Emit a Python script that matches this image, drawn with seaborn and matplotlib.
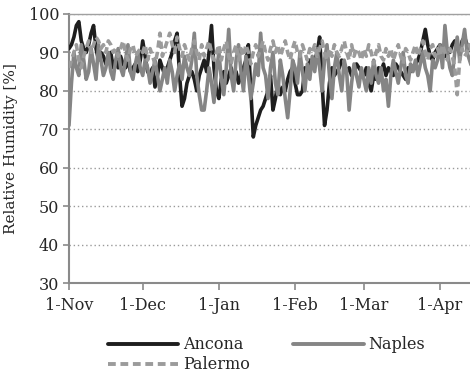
import numpy as np
import pandas as pd
import matplotlib
matplotlib.use("Agg")
import matplotlib.pyplot as plt
from matplotlib.lines import Line2D
import seaborn as sns

# Daily mean relative humidity [%], 1 Nov 2012 - 15 Apr 2013
start_date = "2012-11-01"
ancona = [
    91, 92, 94, 97, 98, 93, 91, 90, 92, 95,
    97, 91, 88, 90, 89, 87, 88, 90, 86, 88,
    86, 89, 87, 86, 88, 85, 86, 87, 85, 88,
    93, 89, 85, 84, 86, 81, 84, 88, 86, 84,
    86, 88, 90, 93, 95, 84, 76, 78, 82, 84,
    85, 83, 80, 84, 86, 88, 85, 90, 97, 86,
    80, 78, 83, 85, 82, 84, 86, 83, 85, 82,
    84, 86, 88, 92, 80, 68, 71, 73, 75, 76,
    78, 80, 84, 75, 78, 82, 79, 81, 80, 83,
    85, 86, 82, 79, 79, 80, 86, 84, 88, 86,
    88, 90, 94, 82, 71, 75, 82, 86, 84, 85,
    86, 88, 87, 85, 86, 84, 85, 87, 86, 85,
    84, 86, 82, 80, 84, 83, 86, 85, 87, 84,
    86, 85, 84, 87, 86, 85, 84, 83, 86, 85,
    86, 87, 88, 90, 93, 96, 92, 89, 88, 90,
    91, 92, 90, 89, 91, 90, 92, 93, 92, 90,
    93, 94, 92, 91, 90, 91,
]
naples = [
    71, 82, 90, 86, 84, 92, 88, 83, 85, 91,
    87, 83, 92, 88, 84, 86, 90, 85, 83, 88,
    91, 86, 84, 88, 92, 85, 83, 87, 90, 86,
    84, 88, 86, 82, 85, 88, 84, 80, 83, 86,
    82, 88, 85, 80, 84, 87, 83, 89, 86, 84,
    88, 95, 84, 79, 75, 75, 80, 86, 82, 77,
    85, 90, 83, 79, 86, 96, 84, 80, 88, 92,
    85, 80, 89, 84, 78, 82, 87, 84, 95, 86,
    84, 78, 86, 90, 82, 79, 88, 84, 78, 73,
    80, 88, 86, 82, 90, 85, 80, 87, 83, 89,
    85, 91, 86, 80, 88, 92, 84, 78, 86, 90,
    84, 80, 88, 85, 75, 82, 87, 84, 81, 86,
    83, 80, 86, 82, 88, 84, 82, 86, 80, 83,
    76, 84, 88, 85, 82, 86, 90, 84, 82, 87,
    85, 88, 84, 87, 90, 86, 84, 80, 88, 86,
    88, 92, 86, 97, 90, 86, 84, 90, 94, 88,
    92, 96, 90, 88, 86, 90,
]
palermo = [
    86, 88, 90, 92, 88, 86, 89, 91, 93, 90,
    92, 94, 93, 91, 92, 90, 93, 92, 90, 91,
    89, 91, 93, 90, 88, 91, 92, 89, 90, 91,
    90, 92, 88, 91, 89, 87, 90, 95, 89, 91,
    93, 95, 92, 90, 94, 91, 89, 92, 90, 88,
    91, 93, 90, 88, 92, 89, 91, 93, 90, 88,
    90, 92, 88, 91, 93, 89, 87, 90, 92, 88,
    91, 89, 92, 90, 87, 90, 92, 89, 91, 93,
    90, 88, 91, 93, 90, 92, 89, 91, 93, 90,
    88, 91, 93, 90, 89, 92, 90, 88, 91, 90,
    92, 89, 91, 93, 90, 88, 91, 89, 92, 90,
    89, 91, 93, 90, 88, 92, 89, 91, 90, 88,
    91, 89, 92, 90, 87, 90, 92, 89, 88, 91,
    89, 91, 88, 90, 92, 89, 87, 91, 90, 88,
    90, 92, 89, 91, 93, 90, 88, 91, 92, 89,
    91, 89, 92, 90, 88, 91, 89, 86, 79, 88,
    91, 89, 90, 92, 88, 90,
]
cities = ["Ancona", "Naples", "Palermo"]
tick_dates = ["2012-11-01", "2012-12-01", "2013-01-01", "2013-02-01", "2013-03-01", "2013-04-01"]
tick_labels = ["1-Nov", "1-Dec", "1-Jan", "1-Feb", "1-Mar", "1-Apr"]
y_ticks = [30, 40, 50, 60, 70, 80, 90, 100]

dates = pd.date_range(start_date, periods=len(ancona), freq="D")
df = pd.concat(
    [pd.DataFrame({"date": dates, "rh": vals, "city": name})
     for name, vals in zip(cities, [ancona, naples, palermo])],
    ignore_index=True,
)

sns.set_style("white")
plt.rcParams["font.family"] = ["DejaVu Serif"]
fs = 11.5

fig = plt.figure(figsize=(4.70, 3.83), dpi=100)
ax = fig.add_axes([69 / 470, 1 - 283 / 383, 1 - 69 / 470, (283 - 14) / 383])

palette = {"Ancona": "#1e1e1e", "Naples": "#858585", "Palermo": "#9b9b9b"}
dashes = {"Ancona": "", "Naples": "", "Palermo": (2.0, 1.2)}
sns.lineplot(data=df, x="date", y="rh", hue="city", style="city",
             palette=palette, dashes=dashes, linewidth=2.6, ax=ax,
             legend=False, zorder=3)

ax.set_ylim(30, 100)
ax.set_yticks(y_ticks)
x0 = pd.Timestamp(start_date)
ax.set_xlim(x0, x0 + pd.Timedelta(days=163.2))
ax.set_xticks(pd.to_datetime(tick_dates))
ax.set_xticklabels(tick_labels)
ax.set_xlabel("")
ax.set_ylabel("Relative Humidity [%]", fontsize=11, labelpad=8)

ax.yaxis.grid(True, color="#9a9a9a", linestyle=(0, (1, 2)), linewidth=1.0)
ax.xaxis.grid(False)
for side in ["left", "bottom"]:
    ax.spines[side].set_color("#8a8a8a")
    ax.spines[side].set_linewidth(1.5)
ax.spines["top"].set_color("#a0a0a0")
ax.spines["top"].set_linewidth(1.0)
ax.spines["right"].set_visible(False)
ax.tick_params(axis="x", direction="out", length=5, width=1.2, color="#8a8a8a",
               labelsize=fs, pad=5, bottom=True)
ax.tick_params(axis="y", direction="out", length=4, width=1.2, color="#8a8a8a",
               labelsize=fs, pad=3, left=True)

handles = [
    Line2D([], [], color=palette["Ancona"], lw=2.8),
    Line2D([], [], color=palette["Palermo"], lw=2.8, dashes=(2.0, 1.2)),
    Line2D([], [], color=palette["Naples"], lw=2.8),
]
labels = ["Ancona", "Palermo", "Naples"]
fig.legend(handles, labels, ncol=2, loc="upper left",
           bbox_to_anchor=(97 / 470, 1 - 325 / 383), frameon=False,
           fontsize=fs, handlelength=4.4, handletextpad=0.3,
           columnspacing=2.7, labelspacing=0.2, borderpad=0.2)

fig.savefig("out.png", dpi=100)
